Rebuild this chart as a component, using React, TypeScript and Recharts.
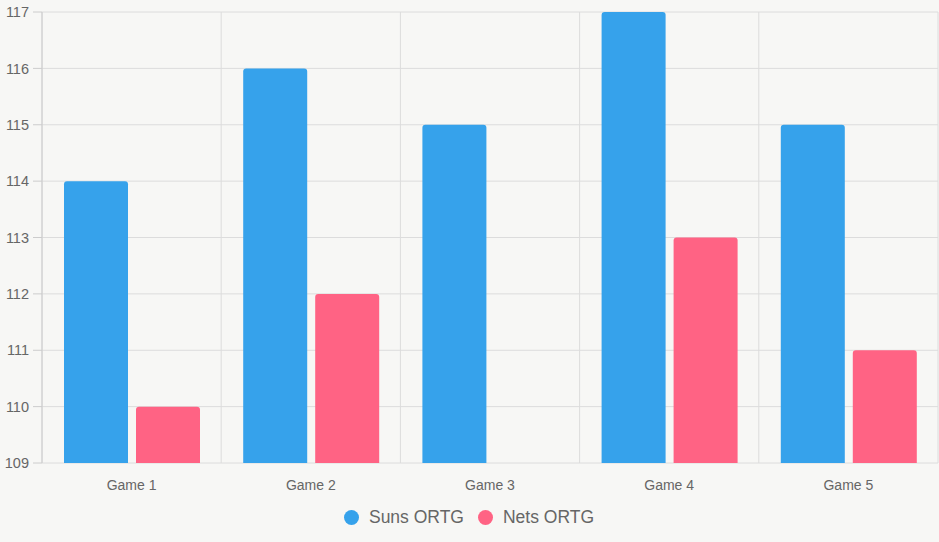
import React from "react";
import {
  Bar,
  BarChart,
  CartesianGrid,
  Legend,
  XAxis,
  YAxis,
} from "recharts";

const games = ["Game 1", "Game 2", "Game 3", "Game 4", "Game 5"];
const sunsOrtg = [114, 116, 115, 117, 115];
const netsOrtg = [110, 112, 109, 113, 111];
const yTicks = [109, 110, 111, 112, 113, 114, 115, 116, 117];

const SUNS = "#36a2eb";
const NETS = "#ff6384";
const GRID = "#dcdcdc";
const AXIS = "#cccccc";
const TEXT = "#666666";
const FONT = '"Liberation Sans", Arial, sans-serif';

const data = games.map((game, i) => ({
  game,
  idx: i + 0.5,
  suns: sunsOrtg[i],
  nets: netsOrtg[i],
}));

// category boundaries, used for the vertical grid and the x tick marks
const boundaryTicks = games.map((_, i) => i).concat(games.length);

function LegendContent() {
  const items = [
    { label: "Suns ORTG", color: SUNS },
    { label: "Nets ORTG", color: NETS },
  ];
  return (
    <div
      style={{
        display: "flex",
        justifyContent: "center",
        alignItems: "center",
        height: 49,
        fontFamily: FONT,
        fontSize: 17.5,
        color: TEXT,
      }}
    >
      {items.map((item) => (
        <div
          key={item.label}
          style={{ display: "flex", alignItems: "center", margin: "0 7px" }}
        >
          <span
            style={{
              width: 15,
              height: 15,
              borderRadius: "50%",
              background: item.color,
              marginRight: 10,
              display: "inline-block",
            }}
          />
          <span>{item.label}</span>
        </div>
      ))}
    </div>
  );
}

export default function App() {
  return (
    <div
      style={{
        position: "absolute",
        left: 0,
        top: 0,
        width: 939,
        height: 542,
        background: "#f7f7f5",
      }}
    >
      <BarChart
        width={939}
        height={542}
        data={data}
        margin={{ top: 12, right: 1, left: 0, bottom: 0 }}
        barGap={8}
      >
        <CartesianGrid stroke={GRID} xAxisId="bounds" />
        <XAxis
          xAxisId="bounds"
          dataKey="idx"
          type="number"
          domain={[0, games.length]}
          ticks={boundaryTicks}
          height={0}
          tick={{ fill: "transparent", fontSize: 1 }}
          tickSize={9}
          tickLine={{ stroke: AXIS }}
          axisLine={{ stroke: AXIS }}
        />
        <XAxis
          dataKey="game"
          height={30}
          tickLine={false}
          axisLine={false}
          tickSize={9}
          tickMargin={8}
          tick={{ fontSize: 14, fill: TEXT, fontFamily: FONT }}
        />
        <YAxis
          domain={[109, 117]}
          ticks={yTicks}
          width={42}
          tickSize={9}
          tickMargin={4}
          interval={0}
          tickLine={{ stroke: AXIS }}
          axisLine={{ stroke: AXIS }}
          tick={{ fontSize: 14.5, fill: TEXT, fontFamily: FONT }}
        />
        <Legend
          verticalAlign="bottom"
          height={49}
          content={() => <LegendContent />}
        />
        <Bar
          dataKey="suns"
          name="Suns ORTG"
          fill={SUNS}
          barSize={64}
          radius={[3, 3, 0, 0]}
          isAnimationActive={false}
        />
        <Bar
          dataKey="nets"
          name="Nets ORTG"
          fill={NETS}
          barSize={64}
          radius={[3, 3, 0, 0]}
          isAnimationActive={false}
        />
      </BarChart>
    </div>
  );
}
